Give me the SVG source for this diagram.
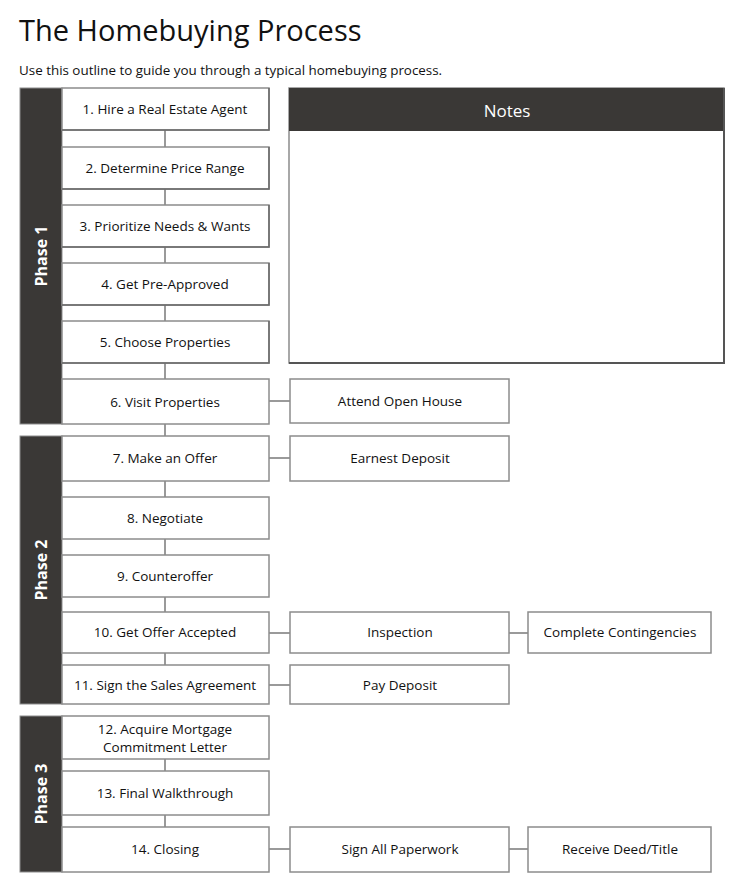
<svg xmlns="http://www.w3.org/2000/svg" width="740" height="892" viewBox="0 0 740 892">
<style>
text{font-family:"Open Sans","Liberation Sans",sans-serif;fill:#111}
.t{font-size:13.5px;text-anchor:middle;dominant-baseline:central}
.box{fill:#fff;stroke:#8c8c8c;stroke-width:1.5}
.sh{fill:none;stroke:#6a6a6a;stroke-width:1.5}
.bar{fill:#3a3836;stroke:#8c8c8c;stroke-width:1}
.ph{font-size:16px;font-weight:bold;fill:#fff;text-anchor:middle;dominant-baseline:central}
.c{stroke:#7a7a7a;stroke-width:1.5;fill:none}
</style>
<rect width="740" height="892" fill="#fff"/>
<text x="19" y="41" font-size="29">The Homebuying Process</text>
<text x="19" y="75" font-size="13.4">Use this outline to guide you through a typical homebuying process.</text>

<g id="connectors">
<path class="c" d="M165 130V147M165 189V205M165 247V263M165 305V321M165 363V379M165 424V436M165 481V497M165 539V555M165 597V612M165 653V665M165 759V771M165 815V827"/>
<path class="c" d="M269 401H290M269 458H290M269 633H290M509 633H528M269 685H290M269 849H290M509 849H528"/>
</g>

<g id="phase1"><rect class="bar" x="20" y="88" width="42" height="336"/><text class="ph" transform="translate(41 256) rotate(-90)">Phase 1</text></g>
<g id="phase2"><rect class="bar" x="20" y="436" width="42" height="268"/><text class="ph" transform="translate(41 570) rotate(-90)">Phase 2</text></g>
<g id="phase3"><rect class="bar" x="20" y="716" width="42" height="156"/><text class="ph" transform="translate(41 794) rotate(-90)">Phase 3</text></g>

<g id="notes">
<rect x="289" y="88" width="435" height="275" fill="#fff" stroke="#8c8c8c" stroke-width="1.5"/>
<rect x="289" y="88" width="435" height="43" fill="#3a3836"/>
<path d="M724 88V363H289" fill="none" stroke="#555" stroke-width="2"/>
<text x="507" y="110" font-size="17" text-anchor="middle" dominant-baseline="central" style="fill:#fff">Notes</text>
</g>

<g id="s1"><rect class="box" x="62" y="88" width="207" height="42"/><path class="sh" d="M269 88V130H62"/><text class="t" x="165" y="109">1. Hire a Real Estate Agent</text></g>
<g id="s2"><rect class="box" x="62" y="147" width="207" height="42"/><path class="sh" d="M269 147V189H62"/><text class="t" x="165" y="168">2. Determine Price Range</text></g>
<g id="s3"><rect class="box" x="62" y="205" width="207" height="42"/><path class="sh" d="M269 205V247H62"/><text class="t" x="165" y="226">3. Prioritize Needs &amp; Wants</text></g>
<g id="s4"><rect class="box" x="62" y="263" width="207" height="42"/><path class="sh" d="M269 263V305H62"/><text class="t" x="165" y="284">4. Get Pre-Approved</text></g>
<g id="s5"><rect class="box" x="62" y="321" width="207" height="42"/><path class="sh" d="M269 321V363H62"/><text class="t" x="165" y="342">5. Choose Properties</text></g>
<g id="s6"><rect class="box" x="62" y="379" width="207" height="45"/><text class="t" x="165" y="402">6. Visit Properties</text></g>
<g id="s6a"><rect class="box" x="290" y="379" width="219" height="44"/><text class="t" x="400" y="401">Attend Open House</text></g>

<g id="s7"><rect class="box" x="62" y="436" width="207" height="45"/><text class="t" x="165" y="458">7. Make an Offer</text></g>
<g id="s7a"><rect class="box" x="290" y="436" width="219" height="45"/><text class="t" x="400" y="458">Earnest Deposit</text></g>
<g id="s8"><rect class="box" x="62" y="497" width="207" height="42"/><text class="t" x="165" y="518">8. Negotiate</text></g>
<g id="s9"><rect class="box" x="62" y="555" width="207" height="42"/><text class="t" x="165" y="576">9. Counteroffer</text></g>
<g id="s10"><rect class="box" x="62" y="612" width="207" height="41"/><text class="t" x="165" y="632">10. Get Offer Accepted</text></g>
<g id="s10a"><rect class="box" x="290" y="612" width="219" height="41"/><text class="t" x="400" y="632">Inspection</text></g>
<g id="s10b"><rect class="box" x="528" y="612" width="183" height="41"/><text class="t" x="620" y="632">Complete Contingencies</text></g>
<g id="s11"><rect class="box" x="62" y="665" width="207" height="39"/><text class="t" x="165" y="685">11. Sign the Sales Agreement</text></g>
<g id="s11a"><rect class="box" x="290" y="665" width="219" height="39"/><text class="t" x="400" y="685">Pay Deposit</text></g>

<g id="s12"><rect class="box" x="62" y="716" width="207" height="43"/><text class="t" x="165" y="729">12. Acquire Mortgage</text><text class="t" x="165" y="747">Commitment Letter</text></g>
<g id="s13"><rect class="box" x="62" y="771" width="207" height="44"/><text class="t" x="165" y="793">13. Final Walkthrough</text></g>
<g id="s14"><rect class="box" x="62" y="827" width="207" height="45"/><text class="t" x="165" y="849">14. Closing</text></g>
<g id="s14a"><rect class="box" x="290" y="827" width="219" height="45"/><text class="t" x="400" y="849">Sign All Paperwork</text></g>
<g id="s14b"><rect class="box" x="528" y="827" width="183" height="45"/><text class="t" x="620" y="849">Receive Deed/Title</text></g>
</svg>
